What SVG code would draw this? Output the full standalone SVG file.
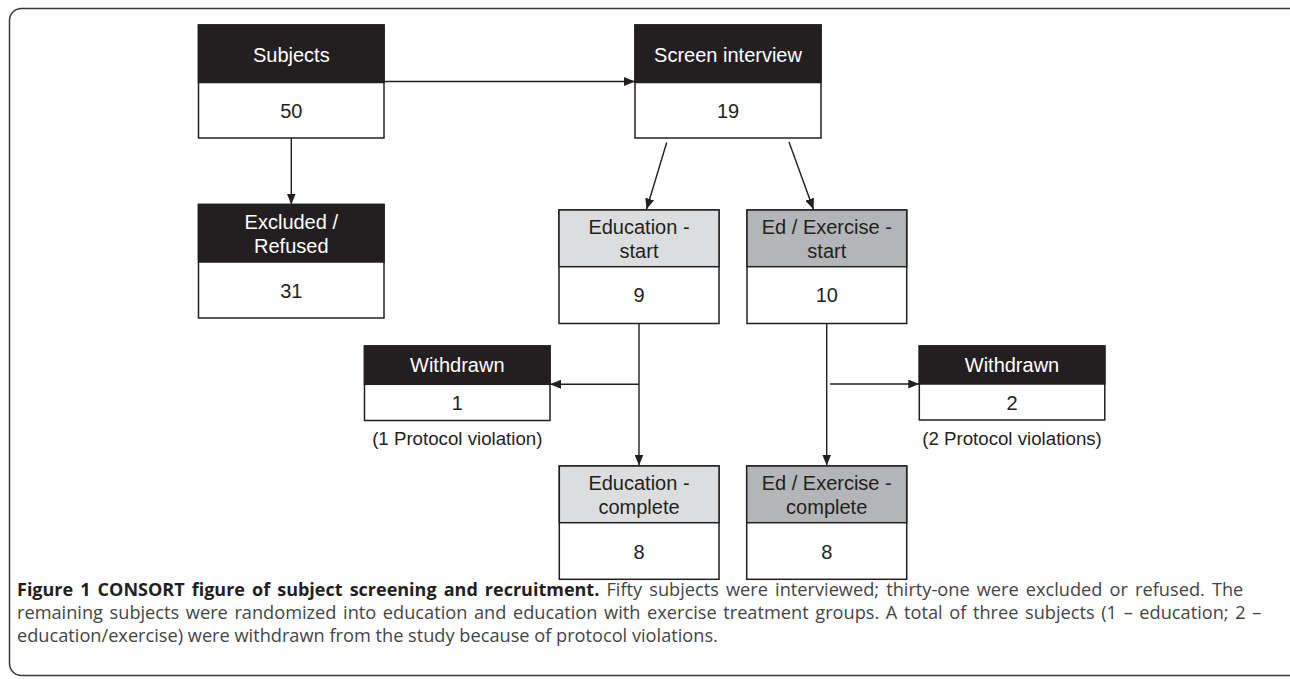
<svg xmlns="http://www.w3.org/2000/svg" width="1290" height="679" viewBox="0 0 1290 679">
<defs>
<marker id="ah" markerWidth="11" markerHeight="9" refX="11" refY="4.5" orient="auto" markerUnits="userSpaceOnUse">
<path d="M0,0 L11,4.5 L0,9 Z" fill="#231f20"/>
</marker>
<style>
.box{fill:#fff;stroke:#231f20;stroke-width:1.5}
.hd{stroke:#231f20;stroke-width:1.5}
.blk{fill:#231f20}
.lg{fill:#dcdddf}
.dg{fill:#b3b5b8}
.wt{font-family:"Liberation Sans",Arial,sans-serif;font-size:20px;fill:#fff;text-anchor:middle}
.bt{font-family:"Liberation Sans",Arial,sans-serif;font-size:20px;fill:#231f20;text-anchor:middle}
.an{font-family:"Liberation Sans",Arial,sans-serif;font-size:18.7px;fill:#231f20;text-anchor:middle}
.cn{fill:none;stroke:#231f20;stroke-width:1.4}
.cap{font-family:"Open Sans","Noto Sans",sans-serif;font-size:18.2px;fill:#454545}
.capb{font-weight:bold;font-size:18px;fill:#231f20}
</style>
</defs>
<rect x="9.5" y="8.5" width="1294" height="667" rx="12" ry="12" fill="none" stroke="#3a3a3a" stroke-width="1.5"/>

<g id="subjects">
<rect class="box" x="198.5" y="25" width="185.5" height="113"/>
<rect class="hd blk" x="198.5" y="25" width="185.5" height="57.5"/>
<text class="wt" x="291.3" y="61.5">Subjects</text>
<text class="bt" x="291.3" y="118">50</text>
</g>

<g id="screen">
<rect class="box" x="635" y="25" width="186" height="113"/>
<rect class="hd blk" x="635" y="25" width="186" height="57.5"/>
<text class="wt" x="728" y="61.5">Screen interview</text>
<text class="bt" x="728" y="118">19</text>
</g>

<g id="excluded">
<rect class="box" x="198.5" y="204.5" width="185.5" height="113.5"/>
<rect class="hd blk" x="198.5" y="204.5" width="185.5" height="57.5"/>
<text class="wt" x="291.3" y="229">Excluded /</text>
<text class="wt" x="291.3" y="252.5">Refused</text>
<text class="bt" x="291.3" y="297.5">31</text>
</g>

<g id="edu-start">
<rect class="box" x="559" y="210" width="160" height="113.5"/>
<rect class="hd lg" x="559" y="210" width="160" height="56.7"/>
<text class="bt" x="639" y="234">Education -</text>
<text class="bt" x="639" y="258">start</text>
<text class="bt" x="639" y="302">9</text>
</g>

<g id="edex-start">
<rect class="box" x="747" y="210" width="159.7" height="113.5"/>
<rect class="hd dg" x="747" y="210" width="159.7" height="56.7"/>
<text class="bt" x="826.8" y="234">Ed / Exercise -</text>
<text class="bt" x="826.8" y="258">start</text>
<text class="bt" x="826.8" y="302">10</text>
</g>

<g id="withdrawn-1">
<rect class="box" x="364.5" y="346" width="185.5" height="74.5"/>
<rect class="hd blk" x="364.5" y="346" width="185.5" height="38.3"/>
<text class="wt" x="457.3" y="372.3">Withdrawn</text>
<text class="bt" x="457.3" y="410">1</text>
<text class="an" x="457.3" y="444.5">(1 Protocol violation)</text>
</g>

<g id="withdrawn-2">
<rect class="box" x="919.3" y="346" width="185.5" height="74"/>
<rect class="hd blk" x="919.3" y="346" width="185.5" height="38"/>
<text class="wt" x="1012" y="372.3">Withdrawn</text>
<text class="bt" x="1012" y="410">2</text>
<text class="an" x="1012" y="444.5">(2 Protocol violations)</text>
</g>

<g id="edu-complete">
<rect class="box" x="559.3" y="466" width="159.7" height="113.3"/>
<rect class="hd lg" x="559.3" y="466" width="159.7" height="56.7"/>
<text class="bt" x="639" y="490">Education -</text>
<text class="bt" x="639" y="513.5">complete</text>
<text class="bt" x="639" y="558.5">8</text>
</g>

<g id="edex-complete">
<rect class="box" x="746.7" y="466" width="160" height="113.3"/>
<rect class="hd dg" x="746.7" y="466" width="160" height="56.7"/>
<text class="bt" x="826.7" y="490">Ed / Exercise -</text>
<text class="bt" x="826.7" y="513.5">complete</text>
<text class="bt" x="826.7" y="558.5">8</text>
</g>

<g id="connectors">
<line class="cn" x1="384" y1="81.5" x2="635" y2="81.5" marker-end="url(#ah)"/>
<line class="cn" x1="291.3" y1="138" x2="291.3" y2="204.5" marker-end="url(#ah)"/>
<line class="cn" x1="666.7" y1="142.5" x2="646.5" y2="209.5" marker-end="url(#ah)"/>
<line class="cn" x1="789" y1="142" x2="813.5" y2="209.5" marker-end="url(#ah)"/>
<line class="cn" x1="639" y1="323.5" x2="639" y2="465.5" marker-end="url(#ah)"/>
<line class="cn" x1="639" y1="384.3" x2="550" y2="384.3" marker-end="url(#ah)"/>
<line class="cn" x1="826.7" y1="323.5" x2="826.7" y2="465.5" marker-end="url(#ah)"/>
<line class="cn" x1="830" y1="384" x2="919.3" y2="384" marker-end="url(#ah)"/>
</g>

<g id="caption">
<text class="cap" x="17" y="596" word-spacing="2.4"><tspan class="capb">Figure 1 CONSORT figure of subject screening and recruitment.</tspan> Fifty subjects were interviewed; thirty-one were excluded or refused. The</text>
<text class="cap" x="17" y="619" word-spacing="1.9">remaining subjects were randomized into education and education with exercise treatment groups. A total of three subjects (1 – education; 2 –</text>
<text class="cap" x="17" y="642">education/exercise) were withdrawn from the study because of protocol violations.</text>
</g>
</svg>
